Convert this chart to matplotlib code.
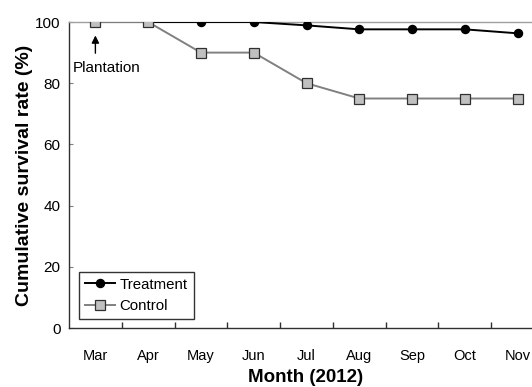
import matplotlib
matplotlib.use("Agg")
import matplotlib.pyplot as plt

months = ["Mar", "Apr", "May", "Jun", "Jul", "Aug", "Sep", "Oct", "Nov"]
treatment = [100, 100, 100, 100, 98.9, 97.6, 97.6, 97.6, 96.3]
control = [100, 100, 90, 90, 80, 75, 75, 75, 75]
yticks = [0, 20, 40, 60, 80, 100]

plt.rcParams['font.family'] = ['Liberation Sans', 'DejaVu Sans']

fig = plt.figure(figsize=(5.32, 3.87), dpi=100)
ax = fig.add_axes([69/532, 59/387, 475/532, 306/387])
x = list(range(len(months)))

ax.plot(x, treatment, color='black', lw=1.4, marker='o', ms=5.8,
        mfc='black', mec='black', label='Treatment', zorder=3)
ax.plot(x, control, color='#808080', lw=1.4, marker='s', ms=6.5,
        mfc='#c0c0c0', mec='#303030', mew=0.9, label='Control', zorder=4)

ax.set_xlim(-0.5, len(months) - 0.5)
ax.set_ylim(0, 100)
ax.set_yticks(yticks)
ax.set_xticks(x)
ax.set_xticklabels(months, fontsize=10.5)
ax.set_xticks([i + 0.5 for i in x[:-1]], minor=True)
ax.tick_params(axis='x', which='major', length=0, pad=15)
ax.tick_params(axis='x', which='minor', direction='in', length=4, width=1, color='#303030')
ax.tick_params(axis='y', direction='in', length=3, width=0.8, color='#808080', labelsize=11, pad=6)

for s in ['left', 'bottom']:
    ax.spines[s].set_color('#303030')
    ax.spines[s].set_linewidth(1.0)
ax.spines['top'].set_color('#a0a0a0')
ax.spines['top'].set_linewidth(1.0)
ax.spines['right'].set_visible(False)

ax.set_xlabel('Month (2012)', fontsize=13.5, fontweight='bold')
ax.xaxis.set_label_coords(237/475, -41/306)
ax.set_ylabel('Cumulative survival rate (%)', fontsize=14, fontweight='bold')
ax.yaxis.set_label_coords(-36/475, 0.5)

ax.annotate('', xy=(0, 95.6), xytext=(0, 89.8),
            arrowprops=dict(arrowstyle='-|>', color='black', lw=1, mutation_scale=11,
                            shrinkA=0, shrinkB=0),
            annotation_clip=False)
ax.text(-0.43, 85.0, 'Plantation', fontsize=11, va='center', ha='left')

leg = ax.legend(loc='lower left', bbox_to_anchor=(0.021, 0.029), fontsize=10.8,
                frameon=True, fancybox=False, edgecolor='black', handlelength=2.0,
                handletextpad=0.3, borderpad=0.4, labelspacing=0.5, borderaxespad=0)
leg.get_frame().set_linewidth(1.0)

fig.savefig('out.png', dpi=100)
